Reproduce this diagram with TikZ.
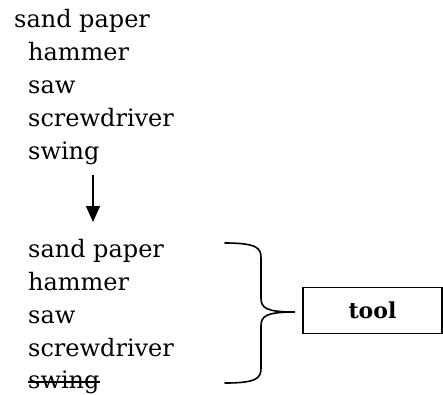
\documentclass[tikz,border=0pt]{standalone}
\usepackage{fontspec}
\setmainfont{DejaVu Serif}
\usetikzlibrary{arrows.meta}
\begin{document}
\begin{tikzpicture}[x=1pt,y=-1pt,
  item/.style={anchor=base west,inner sep=0pt,font=\fontsize{24}{28}\selectfont},
  line/.style={line width=1.6pt,line cap=round},
  tag/.style={draw,line width=1.3pt,minimum width=139pt,minimum height=46pt,inner sep=0pt,font=\fontsize{22}{26}\selectfont\bfseries}]
\useasboundingbox (0,0) rectangle (443,394);
% list before
\node[item] (a1) at (14,27)  {sand paper};
\node[item] (a2) at (28,60)  {hammer};
\node[item] (a3) at (28,93)  {saw};
\node[item] (a4) at (28,126) {screwdriver};
\node[item] (a5) at (28,159) {swing};
% arrow between the lists
\coordinate (p) at (93,175);
\coordinate (q) at (93,222);
\draw[line width=1.4pt,-{Triangle[length=16pt,width=14pt]}] (p) -- (q);
% list after
\node[item] (b1) at (28,257) {sand paper};
\node[item] (b2) at (28,290) {hammer};
\node[item] (b3) at (28,323) {saw};
\node[item] (b4) at (28,356) {screwdriver};
\node[item] (b5) at (28,388) {swing};
\draw[line width=1.3pt] ([yshift=6pt]b5.base west) -- ([yshift=6pt]b5.base east);
% brace
\coordinate (tip) at (295,312);
\draw[line] (225,243) .. controls (257,243) and (261,248) .. (261,258)
  -- (261,298) .. controls (261,308) and (266,312) .. (tip)
  .. controls (266,312) and (261,316) .. (261,326)
  -- (261,368) .. controls (261,378) and (257,383) .. (225,383);
% result box
\node[tag] (t) at (372.5,310.5) {tool};
\end{tikzpicture}
\end{document}
